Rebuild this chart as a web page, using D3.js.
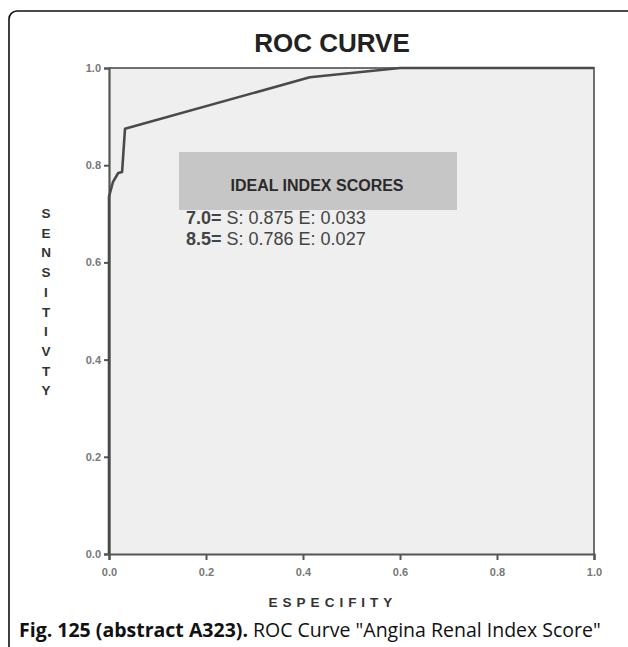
<!DOCTYPE html>
<html><head><meta charset="utf-8">
<script src="https://cdn.jsdelivr.net/npm/d3@7"></script>
<style>body{margin:0;background:#fff}svg{display:block}</style>
</head><body>
<svg id="c" width="628" height="647"></svg>
<script>
// Data
const fpr = [0, 0, 0.008, 0.019, 0.027, 0.033, 0.414, 0.6, 1.0];
const tpr = [0, 0.735, 0.765, 0.784, 0.786, 0.875, 0.981, 1.0, 1.0];
const xTicks = [0, 0.2, 0.4, 0.6, 0.8, 1.0];
const yTicks = [0, 0.2, 0.4, 0.6, 0.8, 1.0];
const titleText = "ROC CURVE";
const xLabel = "ESPECIFITY";
const yLabel = "SENSITIVTY";
const legendTitle = "IDEAL INDEX SCORES";
const legendKeys = ["7.0=", "8.5="];
const legendVals = [" S: 0.875 E: 0.033", " S: 0.786 E: 0.027"];

const svg = d3.select("#c");
svg.append("rect").attr("x",9).attr("y",11).attr("width",700).attr("height",700)
  .attr("rx",8).attr("fill","none").attr("stroke","#111").attr("stroke-width",1.6);

const x = d3.scaleLinear().domain([0,1]).range([109,594]);
const y = d3.scaleLinear().domain([0,1]).range([554,68]);

svg.append("rect").attr("x",x(0)).attr("y",y(1)).attr("width",x(1)-x(0)).attr("height",y(0)-y(1))
  .attr("fill","#efefef");

// frame top/right
svg.append("path").attr("d",`M${x(0)},${y(1)}H${x(1)}V${y(0)}`).attr("fill","none")
  .attr("stroke","#6f6f6f").attr("stroke-width",2);

const xa = svg.append("g").attr("transform",`translate(0,${y(0)})`)
  .call(d3.axisBottom(x).tickValues(xTicks).tickFormat(d3.format(".1f")).tickSize(6).tickPadding(8));
const ya = svg.append("g").attr("transform",`translate(${x(0)},0)`)
  .call(d3.axisLeft(y).tickValues(yTicks).tickFormat(d3.format(".1f")).tickSize(5).tickPadding(3));
[xa,ya].forEach(a=>{
  a.select(".domain").attr("stroke","#555").attr("stroke-width",2.2);
  a.selectAll(".tick line").attr("stroke","#555").attr("stroke-width",2);
  a.selectAll(".tick text").attr("fill","#777").attr("font-family","Arial, 'Liberation Sans', sans-serif")
    .attr("font-size",11).attr("font-weight","bold");
});

// curve
const pts = fpr.map((f,i)=>[f,tpr[i]]);
svg.append("path").datum(pts)
  .attr("d", d3.line().x(d=>x(d[0])).y(d=>y(d[1])))
  .attr("fill","none").attr("stroke","#4a4a4a").attr("stroke-width",2.6).attr("stroke-linejoin","round");

// title
svg.append("text").attr("x",332).attr("y",52).attr("text-anchor","middle")
  .attr("font-family","Arial, 'Liberation Sans', sans-serif").attr("font-weight","bold")
  .attr("font-size",26).attr("fill","#222").text(titleText);

// legend box
svg.append("rect").attr("x",179).attr("y",152).attr("width",278).attr("height",58).attr("fill","#c6c6c6");
svg.append("text").attr("x",317).attr("y",191).attr("text-anchor","middle")
  .attr("font-family","Arial, 'Liberation Sans', sans-serif").attr("font-weight","bold")
  .attr("font-size",16).attr("fill","#2a2a2a").text(legendTitle);
legendKeys.forEach((k,i)=>{
  const t = svg.append("text").attr("x",186).attr("y",224+i*21)
    .attr("font-family","Arial, 'Liberation Sans', sans-serif").attr("font-size",18).attr("fill","#444");
  t.append("tspan").attr("font-weight","bold").text(k);
  t.append("tspan").text(legendVals[i]);
});

// y label (stacked)
yLabel.split("").forEach((ch,i)=>{
  svg.append("text").attr("x",46).attr("y",218+i*19.7).attr("text-anchor","middle")
    .attr("font-family","Arial, 'Liberation Sans', sans-serif").attr("font-weight","bold")
    .attr("font-size",13.5).attr("fill","#333").text(ch);
});

// x label
svg.append("text").attr("x",333).attr("y",607).attr("text-anchor","middle")
  .attr("font-family","Arial, 'Liberation Sans', sans-serif").attr("font-weight","bold")
  .attr("font-size",13.5).attr("letter-spacing",5).attr("fill","#333").text(xLabel);

// caption
const cap = svg.append("text").attr("x",19).attr("y",637)
  .attr("font-family","'Open Sans', 'Noto Sans', sans-serif").attr("font-size",19.5).attr("fill","#111");
cap.append("tspan").attr("font-weight","bold").text("Fig. 125 (abstract A323).");
cap.append("tspan").text(" ROC Curve \"Angina Renal Index Score\"");
</script>
</body></html>
